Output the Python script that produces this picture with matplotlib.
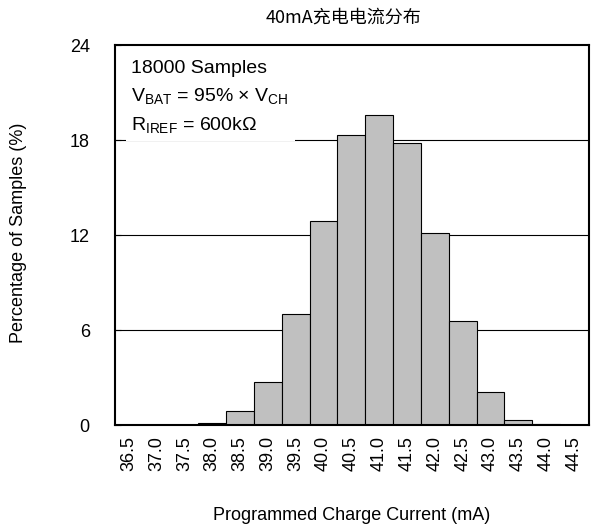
import matplotlib
matplotlib.use('Agg')
import matplotlib.pyplot as plt
import numpy as np

plt.rcParams['font.family'] = ['Liberation Sans', 'Noto Sans CJK SC']
plt.rcParams['mathtext.fontset'] = 'custom'
plt.rcParams['mathtext.rm'] = 'Liberation Sans'

# bin centres (mA) and percentage of samples per bin
centres = [36.5, 37.0, 37.5, 38.0, 38.5, 39.0, 39.5, 40.0, 40.5,
           41.0, 41.5, 42.0, 42.5, 43.0, 43.5, 44.0, 44.5]
percent = [0.0, 0.02, 0.03, 0.15, 0.9, 2.7, 7.0, 12.9, 18.3,
           19.6, 17.8, 12.1, 6.6, 2.1, 0.3, 0.05, 0.0]
tick_labels = [f'{c:.1f}' for c in centres]

fig = plt.figure(figsize=(5.92, 5.30), dpi=100)
ax = fig.add_axes([0.194, 0.198, 0.801, 0.717])

for y in [6, 12, 18]:
    ax.axhline(y, color='black', lw=0.8, zorder=1)
ax.bar(centres, percent, width=0.5, color='#c0c0c0',
       edgecolor='black', lw=0.8, zorder=2)

ax.set_xlim(36.25, 44.77)
ax.set_ylim(0, 24)
ax.set_yticks([0, 6, 12, 18, 24])
ax.set_xticks(centres)
ax.set_xticklabels(tick_labels, rotation=90, fontsize=13)
ax.tick_params(axis='y', labelsize=13, direction='in', length=4, pad=18)
ax.tick_params(axis='x', length=0, pad=8)
for s in ax.spines.values():
    s.set_linewidth(1.5)

ax.text(0.035, 0.96,
        '18000 Samples\n'
        r'$\mathregular{V_{BAT}}$ = 95% × $\mathregular{V_{CH}}$' '\n'
        r'$\mathregular{R_{IREF}}$ = 600kΩ',
        transform=ax.transAxes, va='top', ha='left', fontsize=14,
        linespacing=1.6, zorder=3,
        bbox=dict(facecolor='white', edgecolor='none', pad=4))

ax.set_xlabel('Programmed Charge Current (mA)', fontsize=13, labelpad=26)
fig.text(0.032, 0.56, 'Percentage of Samples (%)', rotation=90,
         ha='center', va='center', fontsize=13)
fig.text(0.58, 0.966, '40mA充电电流分布', ha='center', va='center', fontsize=13,
         family=['Noto Sans CJK SC', 'Liberation Sans'])

fig.savefig('out.png', dpi=100)
